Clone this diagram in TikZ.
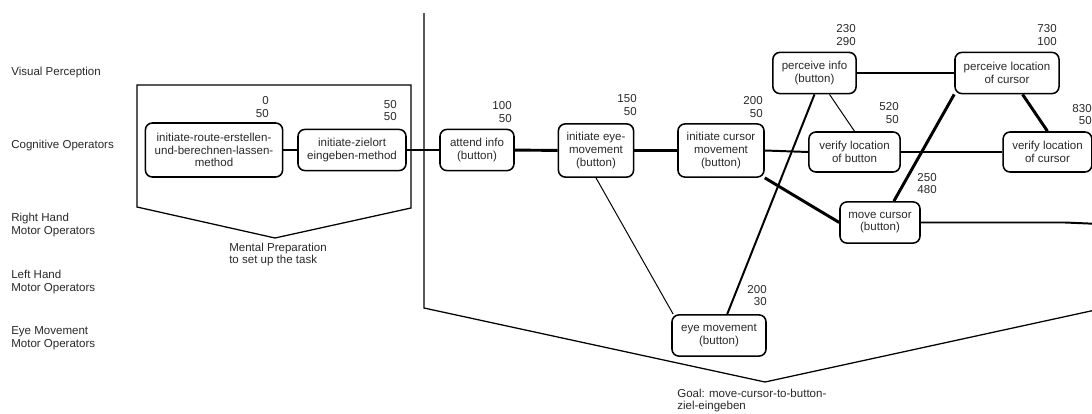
\documentclass[tikz,border=0pt]{standalone}
\usepackage{fontspec}
\setmainfont{Liberation Sans}
\usepackage{xcolor}
\definecolor{inkgray}{RGB}{40,40,40}

\begin{document}
\begin{tikzpicture}[x=0.025cm, y=-0.025cm,
  font=\fontsize{8.2}{9}\selectfont,
  box/.style={draw, rounded corners=5pt, line width=1.1pt, align=center, inner sep=1pt, text=inkgray},
  num/.style={align=right, anchor=east, inner sep=0pt, text=inkgray},
  lane/.style={align=left, anchor=west, inner sep=0pt, text=inkgray},
  strong/.style={line width=2.1pt},
  plain/.style={line width=1.4pt},
  faint/.style={line width=0.7pt},
  brace/.style={line width=0.9pt}
]
  \clip (0,0) rectangle (1092,414);

  % Lanes
  \node[lane] (visual) at (11,73) {Visual Perception};
  \node[lane] (cognitive) at (11,146) {Cognitive Operators};
  \node[lane] (righthand) at (11,225) {Right Hand\\Motor Operators};
  \node[lane] (lefthand) at (11,282) {Left Hand\\Motor Operators};
  \node[lane] (eyemotor) at (11,338.5) {Eye Movement\\Motor Operators};

  % Brackets
  \draw[brace] (137,207) -- (137,85) -- (411,85) -- (411,208) -- (275,238) -- cycle;
  \node[lane] (prep) at (229,254.5) {Mental Preparation\\to set up the task};
  \draw[brace] (424,13) -- (424,308) -- (765,382) -- (1100,309);
  \node[lane] (goal) at (677,400.5) {Goal: move-cursor-to-button-\\ziel-eingeben};

  % Cognitive operators
  \node[box, minimum width=3.43cm, minimum height=1.35cm] (route) at (214,150) {initiate-route-erstellen-\\und-berechnen-lassen-\\method};
  \node[box, minimum width=2.7cm, minimum height=1.03cm] (zielort) at (352,150) {initiate-zielort\\eingeben-method};
  \node[box, minimum width=1.85cm, minimum height=1.03cm] (attend) at (477,150) {attend info\\(button)};
  \node[box, minimum width=1.88cm, minimum height=1.33cm] (initeye) at (596,150.5) {initiate eye-\\movement\\(button)};
  \node[box, minimum width=2.15cm, minimum height=1.33cm] (initcursor) at (721,150.5) {initiate cursor\\movement\\(button)};
  \node[box, minimum width=2.28cm, minimum height=1.0cm] (verifybutton) at (854.5,152) {verify location\\of button};
  \node[box, minimum width=2.22cm, minimum height=1.0cm] (verifycursor) at (1047.5,152) {verify location\\of cursor};

  % Visual perception
  \node[box, minimum width=2.08cm, minimum height=1.03cm] (perceiveinfo) at (814.5,73) {perceive info\\(button)};
  \node[box, minimum width=2.6cm, minimum height=1.03cm] (perceivecursor) at (1007,73) {perceive location\\of cursor};

  % Motor operators
  \node[box, minimum width=2.0cm, minimum height=1.03cm] (movecursor) at (880,222.5) {move cursor\\(button)};
  \node[box, minimum width=2.35cm, minimum height=1.03cm] (eyemove) at (719,335.5) {eye movement\\(button)};

  % Times
  \node[num] (t1) at (269,107) {0\\50};
  \node[num] (t2) at (397,110.5) {50\\50};
  \node[num] (t3) at (512,112) {100\\50};
  \node[num] (t4) at (637,105) {150\\50};
  \node[num] (t5) at (763,107) {200\\50};
  \node[num] (t6) at (856,35) {230\\290};
  \node[num] (t7) at (1057,35) {730\\100};
  \node[num] (t8) at (899,113) {520\\50};
  \node[num] (t9) at (1092,114.5) {830\\50};
  \node[num] (t10) at (937,183.5) {250\\480};
  \node[num] (t11) at (767,295.5) {200\\30};

  % Connectors
  \draw[strong] (route) -- (zielort);
  \draw[strong] (zielort) -- (attend);
  \draw[strong] (attend) -- (initeye);
  \draw[strong] (initeye) -- (initcursor);
  \draw[plain] (initcursor.east) -- (verifybutton.west);
  \draw[plain] (verifybutton) -- (verifycursor);
  \draw[plain] (perceiveinfo) -- (perceivecursor);
  \draw[faint] (perceiveinfo.-55) -- (verifybutton.north);
  \draw[faint] (initeye.south) -- (eyemove.155);
  \draw[plain] (eyemove.69) -- (perceiveinfo.south);
  \draw[strong] (initcursor.south east) -- (movecursor.west);
  \draw[strong] (movecursor.57) -- (perceivecursor.south west);
  \draw[strong] (perceivecursor.-54) -- (verifycursor.north);
  \coordinate (offright) at (1100,224);
  \draw[plain] (movecursor.east) -- (1065,222.5) -- (offright);
\end{tikzpicture}
\end{document}
